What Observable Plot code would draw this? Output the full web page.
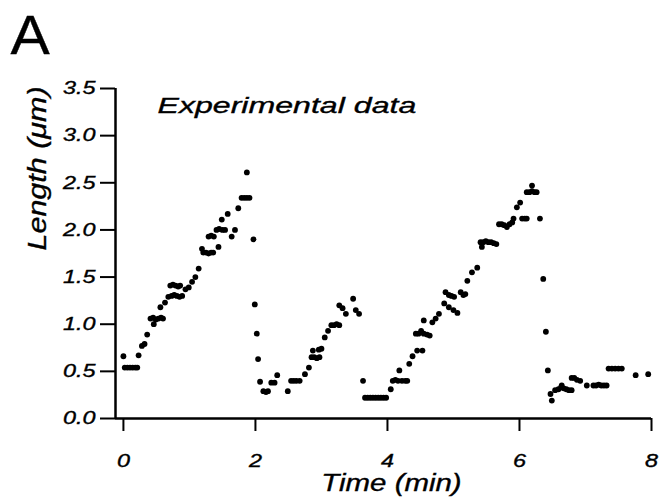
<!DOCTYPE html>
<html><head><meta charset="utf-8">
<script src="https://cdn.jsdelivr.net/npm/d3@7"></script>
<script src="https://cdn.jsdelivr.net/npm/@observablehq/plot@0.6"></script>
<style>
body{margin:0;background:#fff}
#chart svg text{stroke:#000;stroke-width:0.35px}
</style>
</head><body><div id="chart"></div>
<script>
// Experimental data: microtubule length (µm) vs time (min)
const timeMin = [
  0.00, 0.02,0.06,0.10,0.14,0.18,0.21, 0.23,0.28,0.32,0.36,
  0.41,0.45,0.49,0.53,0.57,0.60, 0.46,0.56,0.63,0.68,
  0.71,0.75,0.79,0.83,0.86, 0.73,0.77,0.81,0.85,0.89,
  0.94,0.99,1.04,1.09,1.14,1.19,
  1.21,1.25,1.29,1.33,1.36, 1.29,1.33,1.37, 1.44,
  1.41,1.45,1.50,1.54, 1.49,1.58,1.64,1.69,1.74,
  1.79,1.83,1.87,1.91, 1.87,1.97,1.99,2.02,2.04,2.07,
  2.12,2.16,2.19, 2.24,2.29,2.33, 2.49,
  2.54,2.58,2.62,2.67, 2.75,2.81,
  2.85,2.89,2.93,2.97, 2.87,2.96,3.00, 3.05,3.10,
  3.15,3.19,3.23,3.27, 3.27,3.32,3.37,3.48,3.52,3.57,
  3.63, 3.66,3.70,3.74,3.78,3.82,3.86,3.90,3.94,3.98,
  4.05, 4.08,4.12,4.16,4.22,4.27,4.30, 4.18,4.33,4.38,4.45,4.53,
  4.43,4.47,4.51,4.55,4.60,4.64, 4.55, 4.68,4.73,4.78, 4.86,
  4.93,5.00,5.06, 4.88,4.93,4.97,5.01, 5.11,5.15,5.18,
  5.21,5.28,5.36,
  5.41,5.45,5.49,5.53,5.57,5.61,5.65, 5.43,
  5.69,5.73,5.77,5.81,5.85,5.89, 5.91,5.96,6.01,
  6.04,6.08,6.11, 6.11,6.15,6.19,6.23,6.26, 6.19,
  6.31,6.36,6.40,6.43,6.47,6.49,
  6.54,6.59,6.63,6.67,6.71,6.75,6.79, 6.64,
  6.79,6.83,6.87,6.92, 7.02,
  7.12,7.16,7.20,7.24,7.28,7.32,
  7.35,7.40,7.45,7.50,7.55, 7.76,7.95
];
const lengthUm = [
  0.66, 0.54,0.54,0.54,0.54,0.54,0.54, 0.67,0.77,0.79,0.89,
  1.06,1.07,1.05,1.06,1.07,1.06, 1.00,1.18,1.23,1.29,
  1.41,1.42,1.41,1.40,1.41, 1.30,1.31,1.30,1.29,1.30,
  1.37,1.39,1.45,1.50,1.59,1.80,
  1.76,1.76,1.75,1.76,1.76, 1.93,1.94,1.93, 1.82,
  2.00,2.01,2.00,2.00, 2.11,2.17,1.93,2.00,2.23,
  2.34,2.34,2.34,2.34, 2.61,1.90,1.21,0.90,0.63,0.39,
  0.29,0.28,0.29, 0.38,0.38,0.46, 0.29,
  0.40,0.40,0.40,0.40, 0.47,0.54,
  0.65,0.65,0.64,0.65, 0.72,0.73,0.74, 0.86,0.93,
  0.99,0.99,1.00,0.99, 1.20,1.17,1.11,1.27,1.15,1.11,
  0.40, 0.22,0.22,0.22,0.22,0.22,0.22,0.22,0.22,0.22,
  0.31, 0.40,0.41,0.40,0.40,0.40,0.40, 0.51,0.58,0.66,0.72,0.72,
  0.90,0.90,0.93,0.90,0.89,0.88, 1.04, 1.02,1.06,1.11, 1.22,
  1.18,1.15,1.12, 1.34,1.31,1.30,1.29, 1.34,1.31,1.32,
  1.46,1.55,1.60,
  1.87,1.87,1.88,1.87,1.87,1.86,1.85, 1.82,
  2.06,2.06,2.05,2.03,2.06,2.08, 2.12,2.24,2.29,
  2.12,2.12,2.12, 2.40,2.40,2.41,2.40,2.40, 2.47,
  2.12,1.48,0.92,0.51,0.26,0.19,
  0.30,0.31,0.33,0.32,0.31,0.30,0.30, 0.35,
  0.43,0.43,0.41,0.40, 0.35,
  0.35,0.35,0.36,0.35,0.35,0.35,
  0.53,0.53,0.53,0.53,0.53, 0.46,0.47
];
const xTicks = [0, 2, 4, 6, 8];
const yTicks = [0, 0.5, 1, 1.5, 2, 2.5, 3, 3.5];
const xDomain = [-0.12, 8];
const yDomain = [0, 3.5];
const panelLabel = ["A"];
const titleText = ["Experimental data"];
const xLabel = ["Time (min)"];
const yLabel = ["Length (\u03bcm)"];

const points = timeMin.map((t, i) => ({t, len: lengthUm[i]}));
const font = "'Liberation Sans', Arial, Helvetica, sans-serif";

const chart = Plot.plot({
  width: 659, height: 503,
  marginLeft: 115, marginRight: 8, marginTop: 88, marginBottom: 85,
  style: {fontFamily: font, background: "#fff", color: "#000", overflow: "visible"},
  x: {domain: xDomain},
  y: {domain: yDomain},
  marks: [
    Plot.axisX({ticks: xTicks, tickSize: 13, tickPadding: 23, fontSize: 18, label: null}),
    Plot.axisY({ticks: yTicks, tickSize: 15, tickPadding: 5, fontSize: 18, tickFormat: d3.format(".1f"), label: null}),
    Plot.ruleY([yDomain[0]], {strokeWidth: 2.5}),
    Plot.ruleX([xDomain[0]], {strokeWidth: 2.5}),
    Plot.dot(points, {x: "t", y: "len", r: 2.9, fill: "#000"}),
    Plot.text(titleText, {frameAnchor: "top-left", dx: 42, dy: 24, lineAnchor: "bottom", textAnchor: "start", fontSize: 22, fontStyle: "italic"}),
    Plot.text(xLabel, {frameAnchor: "bottom", dx: 8, dy: 72, lineAnchor: "bottom", fontSize: 23, fontStyle: "italic"}),
    Plot.text(yLabel, {frameAnchor: "left", dx: -78, dy: -3, rotate: -90, lineAnchor: "middle", fontSize: 25, fontStyle: "italic"}),
    Plot.text(panelLabel, {frameAnchor: "top-left", dx: -105, dy: -35, lineAnchor: "bottom", textAnchor: "start", fontSize: 55})
  ]
});

function stretchText(t, s) {
  let tr = t.getAttribute("transform") || "";
  const x = t.getAttribute("x");
  if (x !== null && !isNaN(+x)) { tr += ` translate(${x},0)`; t.removeAttribute("x"); }
  t.setAttribute("transform", tr + ` scale(${s},1)`);
}
function stretchGroup(label, s) {
  chart.querySelectorAll(`g[aria-label="${label}"]`).forEach(g => {
    g.setAttribute("font-style", "italic");
    g.querySelectorAll("text").forEach(t => stretchText(t, s));
  });
}
stretchGroup("x-axis tick label", 1.3);
stretchGroup("y-axis tick label", 1.3);
const factors = new Map([[titleText[0], 1.46], [xLabel[0], 1.28], [yLabel[0], 1.22], [panelLabel[0], 1.07]]);
chart.querySelectorAll("text").forEach(t => {
  const s = factors.get(t.textContent);
  if (s) stretchText(t, s);
});
chart.querySelectorAll('g[aria-label="x-axis tick"], g[aria-label="y-axis tick"]').forEach(g => g.setAttribute("stroke-width", 2));

document.getElementById("chart").appendChild(chart);
</script>
</body></html>
